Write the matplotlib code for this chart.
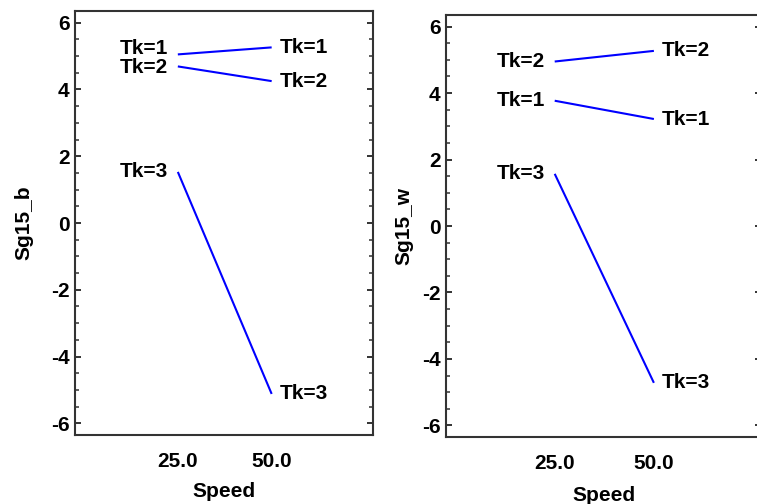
"""Interaction plots of Sg15_b and Sg15_w against Speed, one line per Tk level."""
import matplotlib

matplotlib.use("Agg")
import matplotlib.pyplot as plt
from matplotlib.ticker import MultipleLocator

plt.rcParams["font.family"] = ["Liberation Sans", "DejaVu Sans"]
plt.rcParams["font.weight"] = "bold"
plt.rcParams["axes.unicode_minus"] = False

speed = [25.0, 50.0]
speed_ticks = ["25.0", "50.0"]
tk_levels = ["Tk=1", "Tk=2", "Tk=3"]

# means per Tk level at Speed = 25, 50
sg15_b = {"Tk=1": [5.05, 5.26], "Tk=2": [4.69, 4.25], "Tk=3": [1.53, -5.12]}
sg15_w = {"Tk=1": [3.77, 3.22], "Tk=2": [4.95, 5.27], "Tk=3": [1.57, -4.72]}

W, H = 757, 504
FS = 15
fig = plt.figure(figsize=(W / 100, H / 100), dpi=100)


def px_axes(x0, y0, x1, y1):
    # pixel box (top-left origin) -> figure fraction
    return fig.add_axes([x0 / W, 1 - y1 / H, (x1 - x0) / W, (y1 - y0) / H])


def panel(ax, data, ylabel, ylab_x, xlab_y, nudge):
    for tk in tk_levels:
        vals = data[tk]
        ax.plot(speed, vals, color="#0000ff", linewidth=1.5, solid_capstyle="butt")
        dy0 = nudge.get(tk, 0)
        ax.annotate(tk, (speed[0], vals[0]), xytext=(-7, dy0), textcoords="offset points",
                    ha="right", va="center", fontsize=FS, fontweight="bold")
        ax.annotate(tk, (speed[1], vals[1]), xytext=(6, 0), textcoords="offset points",
                    ha="left", va="center", fontsize=FS, fontweight="bold")
    ax.set_xlim(-2.4, 77)
    ax.set_ylim(-6.35, 6.35)
    ax.set_xticks(speed)
    ax.set_xticklabels(speed_ticks)
    ax.yaxis.set_major_locator(MultipleLocator(2))
    ax.yaxis.set_minor_locator(MultipleLocator(0.5))
    ax.tick_params(axis="x", length=0, pad=12, labelsize=FS)
    ax.tick_params(axis="y", which="major", direction="in", length=4.5, width=1.4,
                   color="#333333", left=True, right=True, pad=4, labelsize=FS)
    ax.tick_params(axis="y", which="minor", direction="in", length=3, width=1.1,
                   color="#333333", left=True, right=True)
    for s in ax.spines.values():
        s.set_color("#333333")
        s.set_linewidth(1.5)
    ax.set_xlabel("Speed", fontsize=FS, fontweight="bold")
    ax.set_ylabel(ylabel, fontsize=FS, fontweight="bold")
    ax.xaxis.set_label_coords(0.5, xlab_y)
    ax.yaxis.set_label_coords(ylab_x, 0.5)


ax1 = px_axes(75, 11, 373, 435)
panel(ax1, sg15_b, "Sg15_b", -0.14, -0.11, {"Tk=1": 4, "Tk=2": -1})

ax2 = px_axes(446, 15, 761, 437)
panel(ax2, sg15_w, "Sg15_w", -0.105, -0.115, {})

fig.savefig("out.png", dpi=100)
plt.close(fig)
